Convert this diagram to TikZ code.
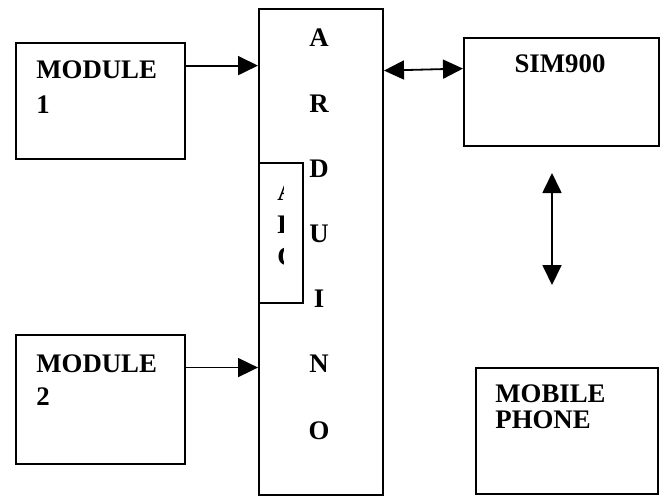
\documentclass[tikz,border=0pt]{standalone}
\usepackage{fontspec}
\setmainfont{Liberation Serif}
\usetikzlibrary{arrows.meta,calc}
\tikzset{
  blk/.style={draw,line width=1pt,anchor=north west,inner sep=0pt},
  txt/.style={anchor=base west,inner sep=0pt,font=\fontsize{13.4}{16}\selectfont\bfseries},
  ltr/.style={anchor=base,inner sep=0pt,font=\fontsize{13.4}{16}\selectfont\bfseries},
  arr/.style={line width=0.9pt,-{Triangle[length=10pt,width=9.5pt]}},
  dbl/.style={line width=0.9pt,{Triangle[length=10pt,width=9.5pt]}-{Triangle[length=10pt,width=9.5pt]}}
}
\begin{document}
\begin{tikzpicture}[x=0.5pt,y=-0.5pt]
\useasboundingbox (0,0) rectangle (664,495);
%boxes
\node[blk,minimum width=84.5pt,minimum height=58pt] (m1) at (15,42) {};
\node[blk,minimum width=84.5pt,minimum height=64.5pt] (m2) at (15,334) {};
\node[blk,minimum width=62pt,minimum height=243pt] (ard) at (258,8) {};
\node[blk,minimum width=22pt,minimum height=70pt] (adc) at (258,162) {};
\node[blk,minimum width=97.5pt,minimum height=54pt] (sim) at (463,37) {};
\node[blk,minimum width=91pt,minimum height=63pt] (mob) at (475,367) {};
%texts
\node[txt] (m1a) at (36,78) {MODULE};
\node[txt] (m1b) at (36,113) {1};
\node[txt] (m2a) at (36,372) {MODULE};
\node[txt] (m2b) at (36,405) {2};
\node[ltr] (simt) at (560,72) {SIM900};
\node[txt] (moba) at (495,402) {MOBILE};
\node[txt] (mobb) at (495,428) {PHONE};
\foreach\l/\y in {A/46,R/112,D/177,U/242,I/307,N/372,O/439} {
  \node[ltr] (ard-\l) at (319,\y) {\l};
}
%adc letters, cut off at the right
\begin{scope}
\clip (258,162) rectangle (283,302);
\foreach\l/\y in {A/200,D/233,C/265} {
  \node[txt] (adc-\l) at (277,\y) {\l};
}
\end{scope}
%arrows
\coordinate (m1o) at ($(m1.north east)!0.2!(m1.south east)$);
\coordinate (m2o) at ($(m2.north east)!0.256!(m2.south east)$);
\coordinate (simi) at ($(sim.north west)!0.287!(sim.south west)$);
\coordinate (up) at (552,173);
\coordinate (dn) at (552,285);
\draw[arr] (m1o) -- (ard.west |- m1o);
\draw[arr] (m2o) -- (ard.west |- m2o);
\draw[dbl] ([yshift=-1pt]ard.east |- simi) -- (simi);
\draw[dbl] (up) -- (dn);
\end{tikzpicture}
\end{document}
